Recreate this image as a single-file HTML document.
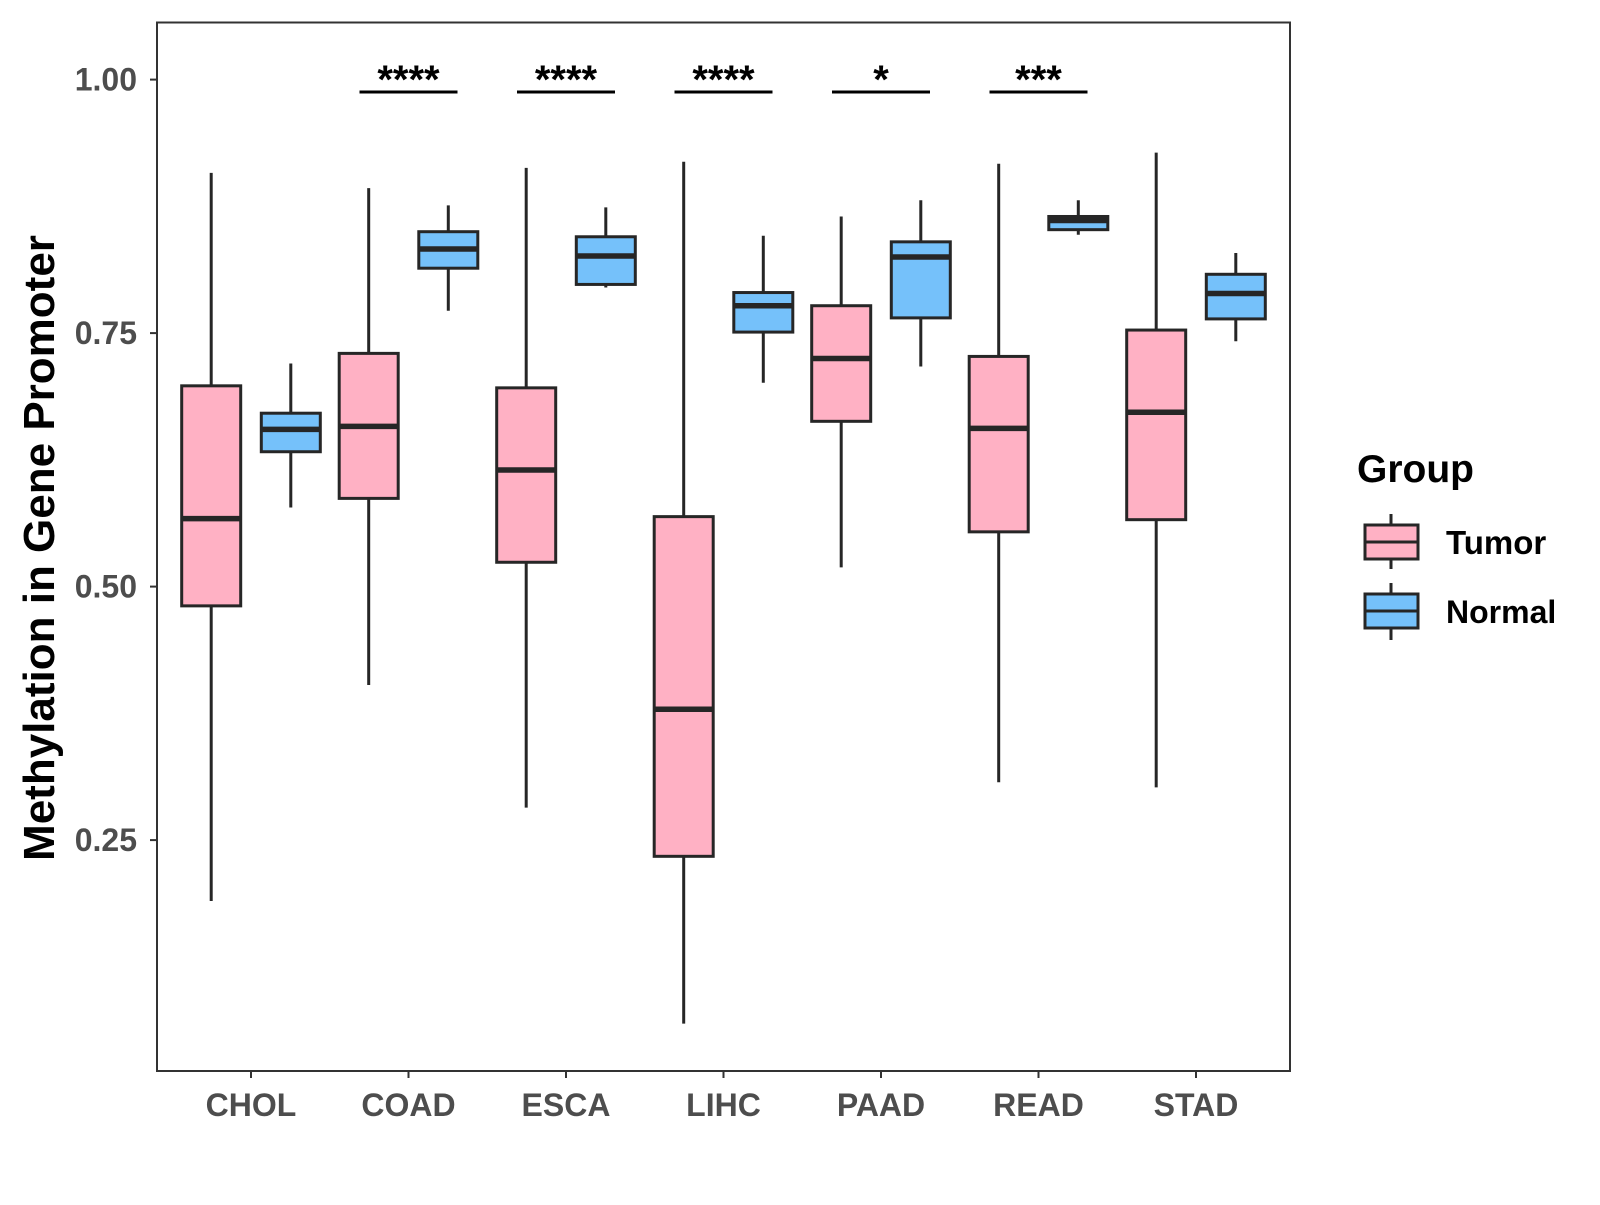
<!DOCTYPE html>
<html><head><meta charset="utf-8"><style>
body{margin:0;background:#fff}
svg text{font-family:"Liberation Sans",Arial,sans-serif;font-weight:bold}
</style></head><body>
<svg id="chart" width="1600" height="1200" xmlns="http://www.w3.org/2000/svg">
<rect x="157" y="22.5" width="1133" height="1048.5" fill="none" stroke="#333" stroke-width="2"/>
<g id="axes"></g><g id="boxes"></g><g id="sig"></g>
<text x="54" y="548" font-size="44" text-anchor="middle" transform="rotate(-90 54 548)">Methylation in Gene Promoter</text>
<g>
<text x="1357" y="482" font-size="39">Group</text>
<g>
<line x1="1391" y1="514" x2="1391" y2="569" stroke="#262626" stroke-width="3"/>
<rect x="1365" y="525" width="53" height="34" fill="#FFB1C4" stroke="#262626" stroke-width="3"/>
<line x1="1365" y1="542" x2="1418" y2="542" stroke="#262626" stroke-width="3"/>
<text x="1446" y="554" font-size="33">Tumor</text></g>
<g>
<line x1="1391" y1="583" x2="1391" y2="640" stroke="#262626" stroke-width="3"/>
<rect x="1365" y="594" width="53" height="34" fill="#75C1FA" stroke="#262626" stroke-width="3"/>
<line x1="1365" y1="611" x2="1418" y2="611" stroke="#262626" stroke-width="3"/>
<text x="1446" y="623" font-size="32">Normal</text></g>
</g>
</svg>
<script>
const categories=["CHOL","COAD","ESCA","LIHC","PAAD","READ","STAD"];
// [whiskerLow, q1, median, q3, whiskerHigh]
const tumor=[[0.190,0.481,0.567,0.698,0.908],[0.403,0.587,0.658,0.730,0.893],[0.282,0.524,0.615,0.696,0.913],[0.069,0.234,0.379,0.569,0.919],[0.519,0.663,0.725,0.777,0.865],[0.307,0.554,0.656,0.727,0.917],[0.302,0.566,0.672,0.753,0.928]];
const normal=[[0.578,0.633,0.655,0.671,0.720],[0.772,0.814,0.833,0.850,0.876],[0.795,0.798,0.826,0.845,0.874],[0.701,0.751,0.777,0.790,0.846],[0.717,0.765,0.825,0.840,0.881],[0.847,0.852,0.861,0.865,0.881],[0.742,0.764,0.789,0.808,0.829]];
const yTicks=[0.25,0.50,0.75,1.00];
const yTickLabels=["0.25","0.50","0.75","1.00"];
const sigLabels=["","****","****","****","*","***",""];
const NS="http://www.w3.org/2000/svg";
function y(v){return 79.6+(1-v)*1014;}
function x(i){return 251+i*157.5;}
function mk(t,a,p,txt){const e=document.createElementNS(NS,t);for(const k in a)e.setAttribute(k,a[k]);if(txt!==undefined)e.textContent=txt;p.appendChild(e);return e;}
const axes=document.getElementById('axes'),boxes=document.getElementById('boxes'),sig=document.getElementById('sig');
yTicks.forEach((v,i)=>{
 const l=mk('line',{x1:150,x2:157,y1:y(v),y2:y(v),stroke:'#333','stroke-width':2},axes);
 
 
 const t=mk('text',{x:137,y:y(v)+11,'font-size':32,'text-anchor':'end',fill:'#4d4d4d'},axes,yTickLabels[i]);
 
 
});
categories.forEach((c,i)=>{
 const l=mk('line',{x1:x(i),x2:x(i),y1:1071,y2:1078,stroke:'#333','stroke-width':2},axes);
 
 
 const t=mk('text',{x:x(i),y:1116,'font-size':32,'text-anchor':'middle',fill:'#4d4d4d'},axes,c);
 
 
 [[tumor[i],-39.8,'#FFB1C4','tumor'],[normal[i],39.8,'#75C1FA','normal']].forEach(([d,off,col,nm])=>{
  const cx=x(i)+off,w=59;
  const g=mk('g',{},boxes);
  
  
  mk('line',{x1:cx,x2:cx,y1:y(d[4]),y2:y(d[0]),stroke:'#262626','stroke-width':3},g);
  mk('rect',{x:cx-w/2,y:y(d[3]),width:w,height:y(d[1])-y(d[3]),fill:col,stroke:'#262626','stroke-width':3},g);
  mk('line',{x1:cx-w/2,x2:cx+w/2,y1:y(d[2]),y2:y(d[2]),stroke:'#262626','stroke-width':5.5},g);
 });
 if(sigLabels[i]){
  const b=mk('line',{x1:x(i)-49,x2:x(i)+49,y1:92,y2:92,stroke:'#000','stroke-width':3},sig);
  
  
  const s=mk('text',{x:x(i),y:93,'font-size':40,'text-anchor':'middle'},sig,sigLabels[i]);
  
  
 }
});
</script>
</body></html>
